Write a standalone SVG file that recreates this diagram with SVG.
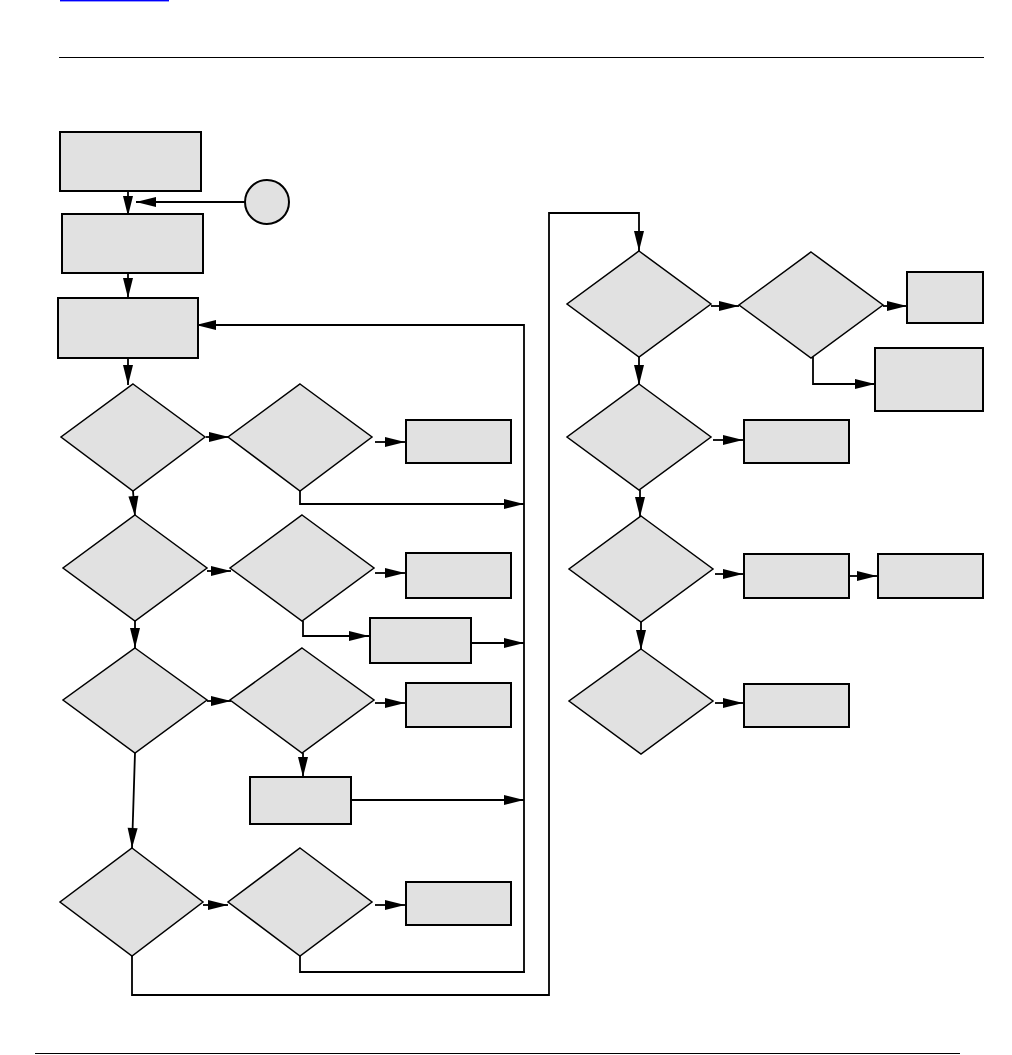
<svg xmlns="http://www.w3.org/2000/svg" width="1012" height="1055" viewBox="0 0 1012 1055">
<style>
.box{fill:#e1e1e1;stroke:#000;stroke-width:2}
.dia{fill:#e1e1e1;stroke:#000;stroke-width:1.5}
.c{fill:none;stroke:#000;stroke-width:1.8}
.a{marker-end:url(#ah)}
.rule{stroke:#000;stroke-width:1.2}
</style>
<defs>
<marker id="ah" markerUnits="userSpaceOnUse" markerWidth="22" markerHeight="12" refX="20" refY="5" orient="auto" overflow="visible">
<path d="M0,0 L20,5 L0,10 z" fill="#000"/>
</marker>
</defs>
<rect x="60" y="0" width="109" height="1.4" fill="#0000ff"/>
<line class="rule" x1="59" y1="57.5" x2="984" y2="57.5"/>
<line class="rule" x1="35" y1="1053.5" x2="960" y2="1053.5"/>

<g id="connectors">
<path class="c a" d="M128,191 V216"/>
<path class="c a" d="M245,202 H136"/>
<path class="c a" d="M128,273 V298"/>
<path class="c a" d="M128,358 V385"/>
<path class="c a" d="M524,972 V325 H196"/>
<path class="c a" d="M206,437 H229"/>
<path class="c a" d="M375,442 H405"/>
<path class="c a" d="M300,491 V504 H524"/>
<path class="c a" d="M133,491 L135,516"/>
<path class="c a" d="M207,571 H231"/>
<path class="c a" d="M375,573 H405"/>
<path class="c a" d="M303,621 V636 H369"/>
<path class="c a" d="M471,643 H524"/>
<path class="c a" d="M135,621 V648"/>
<path class="c a" d="M207,701 H231"/>
<path class="c a" d="M375,703 H405"/>
<path class="c a" d="M303,753 V777"/>
<path class="c a" d="M351,800 H524"/>
<path class="c a" d="M135,753 L132,848"/>
<path class="c a" d="M203,905 H228"/>
<path class="c a" d="M375,905 H405"/>
<path class="c" d="M300,956 V972 H525"/>
<path class="c a" d="M132,956 V995 H549 V213 H639 V251"/>
<path class="c a" d="M711,306 H739"/>
<path class="c a" d="M883,306 H907"/>
<path class="c a" d="M813,357 V384 H875"/>
<path class="c a" d="M639,357 V385"/>
<path class="c a" d="M713,440 H743"/>
<path class="c a" d="M640,490 V517"/>
<path class="c a" d="M715,574 H743"/>
<path class="c a" d="M849,576 H877"/>
<path class="c a" d="M641,622 V650"/>
<path class="c a" d="M715,703 H743"/>
</g>

<g id="n-box1"><rect class="box" x="60" y="132" width="141" height="59"/></g>
<g id="n-box2"><rect class="box" x="62" y="214" width="141" height="59"/></g>
<g id="n-circle"><circle class="box" cx="267" cy="202" r="22"/></g>
<g id="n-box3"><rect class="box" x="58" y="298" width="140" height="60"/></g>
<g id="n-d1"><polygon class="dia" points="133,384 205,437 133,491 61,437"/></g>
<g id="n-d2"><polygon class="dia" points="300,384 372,437 300,491 228,437"/></g>
<g id="n-boxA"><rect class="box" x="406" y="420" width="105" height="43"/></g>
<g id="n-d3"><polygon class="dia" points="135,515 207,568 135,621 63,568"/></g>
<g id="n-d4"><polygon class="dia" points="302,515 374,568 302,621 230,568"/></g>
<g id="n-boxB"><rect class="box" x="406" y="553" width="105" height="45"/></g>
<g id="n-boxC"><rect class="box" x="370" y="618" width="101" height="45"/></g>
<g id="n-d5"><polygon class="dia" points="135,648 207,700 135,753 63,700"/></g>
<g id="n-d6"><polygon class="dia" points="302,648 374,700 302,753 230,700"/></g>
<g id="n-boxD"><rect class="box" x="406" y="683" width="105" height="44"/></g>
<g id="n-boxE"><rect class="box" x="250" y="777" width="101" height="47"/></g>
<g id="n-d7"><polygon class="dia" points="132,848 203,902 132,956 60,902"/></g>
<g id="n-d8"><polygon class="dia" points="300,848 372,902 300,956 228,902"/></g>
<g id="n-boxF"><rect class="box" x="406" y="882" width="105" height="43"/></g>
<g id="n-r1"><polygon class="dia" points="639,251 711,304 639,357 567,304"/></g>
<g id="n-r2"><polygon class="dia" points="811,252 883,305 811,358 739,305"/></g>
<g id="n-boxG"><rect class="box" x="907" y="272" width="76" height="51"/></g>
<g id="n-boxH"><rect class="box" x="875" y="348" width="108" height="63"/></g>
<g id="n-r3"><polygon class="dia" points="639,384 711,437 639,490 567,437"/></g>
<g id="n-boxI"><rect class="box" x="744" y="420" width="105" height="43"/></g>
<g id="n-r4"><polygon class="dia" points="641,516 713,569 641,622 569,569"/></g>
<g id="n-boxJ"><rect class="box" x="744" y="554" width="105" height="44"/></g>
<g id="n-boxK"><rect class="box" x="878" y="554" width="105" height="44"/></g>
<g id="n-r5"><polygon class="dia" points="641,649 713,701 641,754 569,701"/></g>
<g id="n-boxL"><rect class="box" x="744" y="684" width="105" height="43"/></g>
</svg>
